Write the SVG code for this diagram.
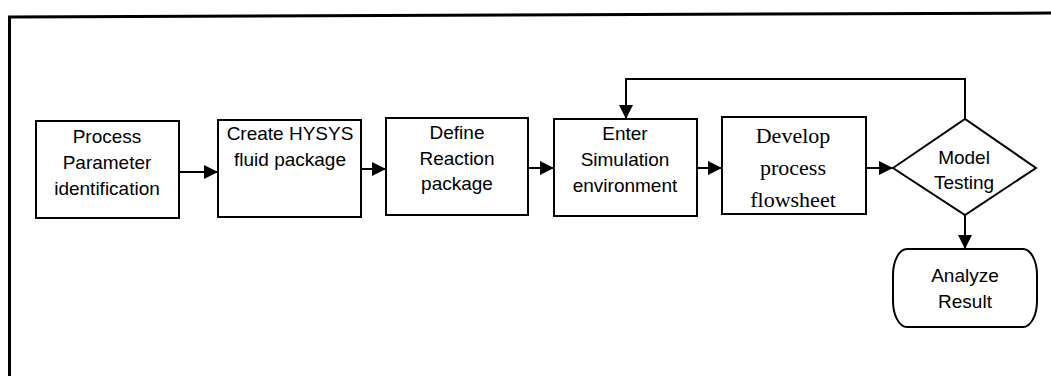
<svg xmlns="http://www.w3.org/2000/svg" width="1051" height="376" viewBox="0 0 1051 376">
  <style>
    .box { fill: #fff; stroke: #000; stroke-width: 2; }
    .line { fill: none; stroke: #000; stroke-width: 2; }
    .sans { font-family: "Liberation Sans", Arial, sans-serif; font-size: 19px; fill: #000; text-anchor: middle; }
    .serif { font-family: "Liberation Serif", "Times New Roman", serif; font-size: 22px; fill: #000; text-anchor: middle; }
  </style>
  <defs>
    <marker id="arrow" viewBox="0 0 14 14" refX="14" refY="7" markerWidth="14" markerHeight="14" markerUnits="userSpaceOnUse" orient="auto">
      <path d="M0,0 L14,7 L0,14 Z" fill="#000"/>
    </marker>
  </defs>

  <rect width="1051" height="376" fill="#fff"/>

  <!-- outer frame -->
  <polyline points="9.5,376 9.5,17 1051,13" fill="none" stroke="#000" stroke-width="3"/>

  <g id="connectors">
    <line class="line" x1="179" y1="172" x2="218" y2="172" marker-end="url(#arrow)"/>
    <line class="line" x1="361" y1="169" x2="386" y2="169" marker-end="url(#arrow)"/>
    <line class="line" x1="528" y1="168" x2="554" y2="168" marker-end="url(#arrow)"/>
    <line class="line" x1="697" y1="168" x2="722" y2="168" marker-end="url(#arrow)"/>
    <line class="line" x1="866" y1="168" x2="893" y2="168" marker-end="url(#arrow)"/>
    <polyline class="line" points="965,119 965,79 626,79 626,119" marker-end="url(#arrow)"/>
    <line class="line" x1="965" y1="215" x2="965" y2="249" marker-end="url(#arrow)"/>
  </g>

  <g id="node-process-parameter">
    <rect class="box" x="36" y="121" width="143" height="97"/>
    <text class="sans" x="107" y="143">Process</text>
    <text class="sans" x="107" y="169">Parameter</text>
    <text class="sans" x="107" y="195">identification</text>
  </g>

  <g id="node-fluid-package">
    <rect class="box" x="218" y="120" width="143" height="97"/>
    <text class="sans" x="290" y="140">Create HYSYS</text>
    <text class="sans" x="290" y="166">fluid package</text>
  </g>

  <g id="node-reaction-package">
    <rect class="box" x="386" y="118" width="142" height="97"/>
    <text class="sans" x="457" y="139">Define</text>
    <text class="sans" x="457" y="165">Reaction</text>
    <text class="sans" x="457" y="190">package</text>
  </g>

  <g id="node-simulation-environment">
    <rect class="box" x="554" y="119" width="143" height="97"/>
    <text class="sans" x="625" y="140">Enter</text>
    <text class="sans" x="625" y="166">Simulation</text>
    <text class="sans" x="625" y="192">environment</text>
  </g>

  <g id="node-process-flowsheet">
    <rect class="box" x="722" y="117" width="144" height="97"/>
    <text class="serif" x="793" y="143">Develop</text>
    <text class="serif" x="793" y="175">process</text>
    <text class="serif" x="793" y="207">flowsheet</text>
  </g>

  <g id="node-model-testing">
    <polygon class="box" points="893,168 965,119 1036,168 965,215"/>
    <text class="sans" x="964" y="164">Model</text>
    <text class="sans" x="964" y="189">Testing</text>
  </g>

  <g id="node-analyze-result">
    <rect class="box" x="893" y="249" width="144" height="78" rx="14" ry="26"/>
    <text class="sans" x="965" y="282">Analyze</text>
    <text class="sans" x="965" y="308">Result</text>
  </g>
</svg>
